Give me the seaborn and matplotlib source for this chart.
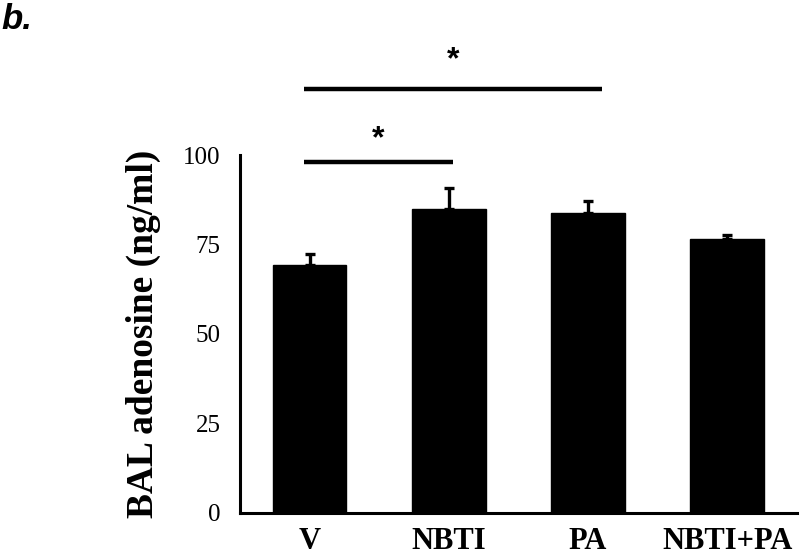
import matplotlib
matplotlib.use("Agg")
import matplotlib.pyplot as plt
import seaborn as sns
import pandas as pd
import numpy as np

# BAL adenosine per treatment group (mean and upper error)
groups = ["V", "NBTI", "PA", "NBTI+PA"]
means = [69.2, 84.8, 83.9, 76.4]
errors = [3.2, 5.9, 3.4, 1.3]
y_ticks = [0, 25, 50, 75, 100]

# significance brackets: (start, end, height, star height)
sig_lines = [(-0.04, 1.03, 98.0, 104.5), (-0.04, 2.10, 118.4, 126.5)]

df = pd.DataFrame({"group": groups, "mean": means, "err": errors})

sns.set_style("white")
plt.rcParams["font.family"] = ["Liberation Serif", "DejaVu Serif"]
plt.rcParams["text.color"] = "black"
plt.rcParams["axes.labelcolor"] = "black"
plt.rcParams["xtick.color"] = "black"
plt.rcParams["ytick.color"] = "black"

fig = plt.figure(figsize=(8, 5.56), dpi=100)
ax = fig.add_axes([0.30, 0.078, 0.696, 0.643])

sns.barplot(data=df, x="group", y="mean", color="black", width=0.53,
            errorbar=None, saturation=1, ax=ax)
for patch in ax.patches:
    patch.set_edgecolor("black")

x = np.arange(len(groups))
ax.errorbar(x, df["mean"], yerr=[np.zeros(len(groups)), df["err"]], fmt="none",
            ecolor="black", elinewidth=2.4, capsize=3.6, capthick=2.4)

ax.set_xlim(-0.5, 3.5)
ax.set_ylim(0, 100)
ax.set_yticks(y_ticks)
ax.set_yticklabels([str(t) for t in y_ticks], fontsize=18)
ax.set_xticks(x)
ax.set_xticklabels(groups, fontsize=22, fontweight="bold")
ax.set_xticks(np.arange(-0.5, 4.0, 1.0), minor=True)
ax.tick_params(axis="x", which="major", length=0, pad=10)
ax.tick_params(axis="x", which="minor", length=6, width=2.2, direction="out")
ax.tick_params(axis="y", which="major", length=6, width=2.2, direction="out", pad=8)
ax.set_xlabel("")
ax.set_ylabel("BAL adenosine (ng/ml)", fontsize=27, fontweight="bold", labelpad=16)

sns.despine(ax=ax)
for side in ["left", "bottom"]:
    ax.spines[side].set_linewidth(2.2)
    ax.spines[side].set_color("black")

for x0, x1, yl, ys in sig_lines:
    ax.plot([x0, x1], [yl, yl], color="black", lw=3.2, clip_on=False,
            solid_capstyle="butt")
    ax.text((x0 + x1) / 2, ys, "*", ha="center", va="center", fontsize=23,
            fontweight="bold", family=["Liberation Sans", "DejaVu Sans"],
            clip_on=False)

fig.text(0.002, 0.995, "b.", ha="left", va="top", fontsize=25,
         fontweight="bold", fontstyle="italic",
         family=["Liberation Sans", "DejaVu Sans"])

fig.savefig("out.png", dpi=100)
